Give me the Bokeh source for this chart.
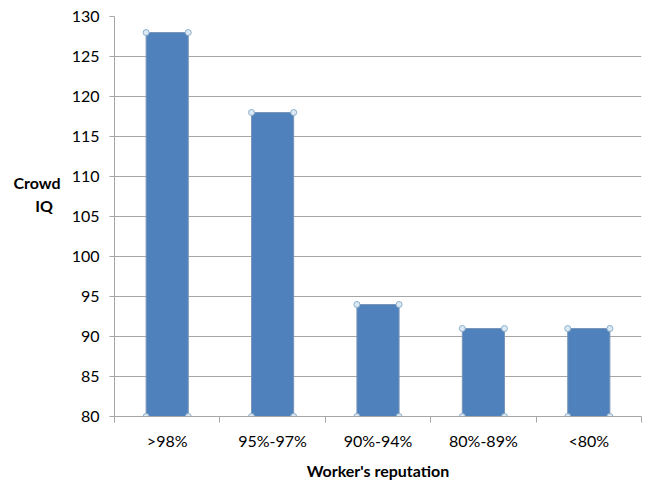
from bokeh.plotting import figure
from bokeh.models import Range1d, FixedTicker
from bokeh.embed import file_html
from bokeh.resources import INLINE

categories = [">98%", "95%-97%", "90%-94%", "80%-89%", "<80%"]
crowd_iq = [128, 118, 94, 91, 91]
y_ticks = [80, 85, 90, 95, 100, 105, 110, 115, 120, 125, 130]
baseline = 80

FONT = "Lato"
xs = [i + 0.5 for i in range(len(categories))]

p = figure(width=649, height=482, output_backend="svg", toolbar_location=None,
           x_range=Range1d(0, len(categories)), y_range=Range1d(80, 130),
           min_border_left=114, min_border_right=8, min_border_top=16, min_border_bottom=0)
p.outline_line_color = None
p.background_fill_color = "white"
p.border_fill_color = "white"

p.vbar(x=xs, top=crowd_iq, bottom=baseline, width=0.4,
       fill_color="#4F81BD", line_color="#7A96B8", line_width=1)

# selection-handle style corner markers
hx, hy = [], []
for x, t in zip(xs, crowd_iq):
    for dx in (-0.2, 0.2):
        for yy in (t, baseline):
            hx.append(x + dx)
            hy.append(yy)
p.scatter(hx, hy, size=6, fill_color="#DCE8F3", line_color="#8AAFC9", line_width=1)

# x axis
p.xaxis.ticker = FixedTicker(ticks=xs, minor_ticks=list(range(len(categories) + 1)))
p.xaxis.major_label_overrides = {x: c for x, c in zip(xs, categories)}
p.xaxis.major_tick_out = 0
p.xaxis.major_tick_in = 0
p.xaxis.minor_tick_out = 6
p.xaxis.minor_tick_in = 0
p.xaxis.minor_tick_line_color = "#A6A6A6"
p.xaxis.axis_line_color = "#A6A6A6"
p.xaxis.major_label_text_font = FONT
p.xaxis.major_label_text_font_size = "16px"
p.xaxis.major_label_text_color = "black"
p.xaxis.major_label_standoff = 8
p.xaxis.axis_label = "Worker's reputation"
p.xaxis.axis_label_text_font = FONT
p.xaxis.axis_label_text_font_size = "16px"
p.xaxis.axis_label_text_font_style = "bold"
p.xaxis.axis_label_text_color = "black"
p.xaxis.axis_label_standoff = 8

# y axis
p.yaxis.ticker = FixedTicker(ticks=y_ticks)
p.yaxis.major_tick_out = 5
p.yaxis.major_tick_in = 0
p.yaxis.minor_tick_out = 0
p.yaxis.minor_tick_in = 0
p.yaxis.major_tick_line_color = "#A6A6A6"
p.yaxis.axis_line_color = "#A6A6A6"
p.yaxis.major_label_text_font = FONT
p.yaxis.major_label_text_font_size = "16px"
p.yaxis.major_label_text_color = "black"
p.yaxis.major_label_standoff = 10
p.yaxis.axis_label = "Crowd\nIQ\u00a0\u00a0\n\u00a0\n\u00a0"
p.yaxis.axis_label_orientation = "horizontal"
p.yaxis.axis_label_text_font = FONT
p.yaxis.axis_label_text_font_size = "16px"
p.yaxis.axis_label_text_font_style = "bold"
p.yaxis.axis_label_text_color = "black"
p.yaxis.axis_label_standoff = 8

p.xgrid.grid_line_color = None
p.ygrid.grid_line_color = "#A6A6A6"
p.ygrid.ticker = FixedTicker(ticks=y_ticks)

open("out.html", "w").write(file_html(p, INLINE))
